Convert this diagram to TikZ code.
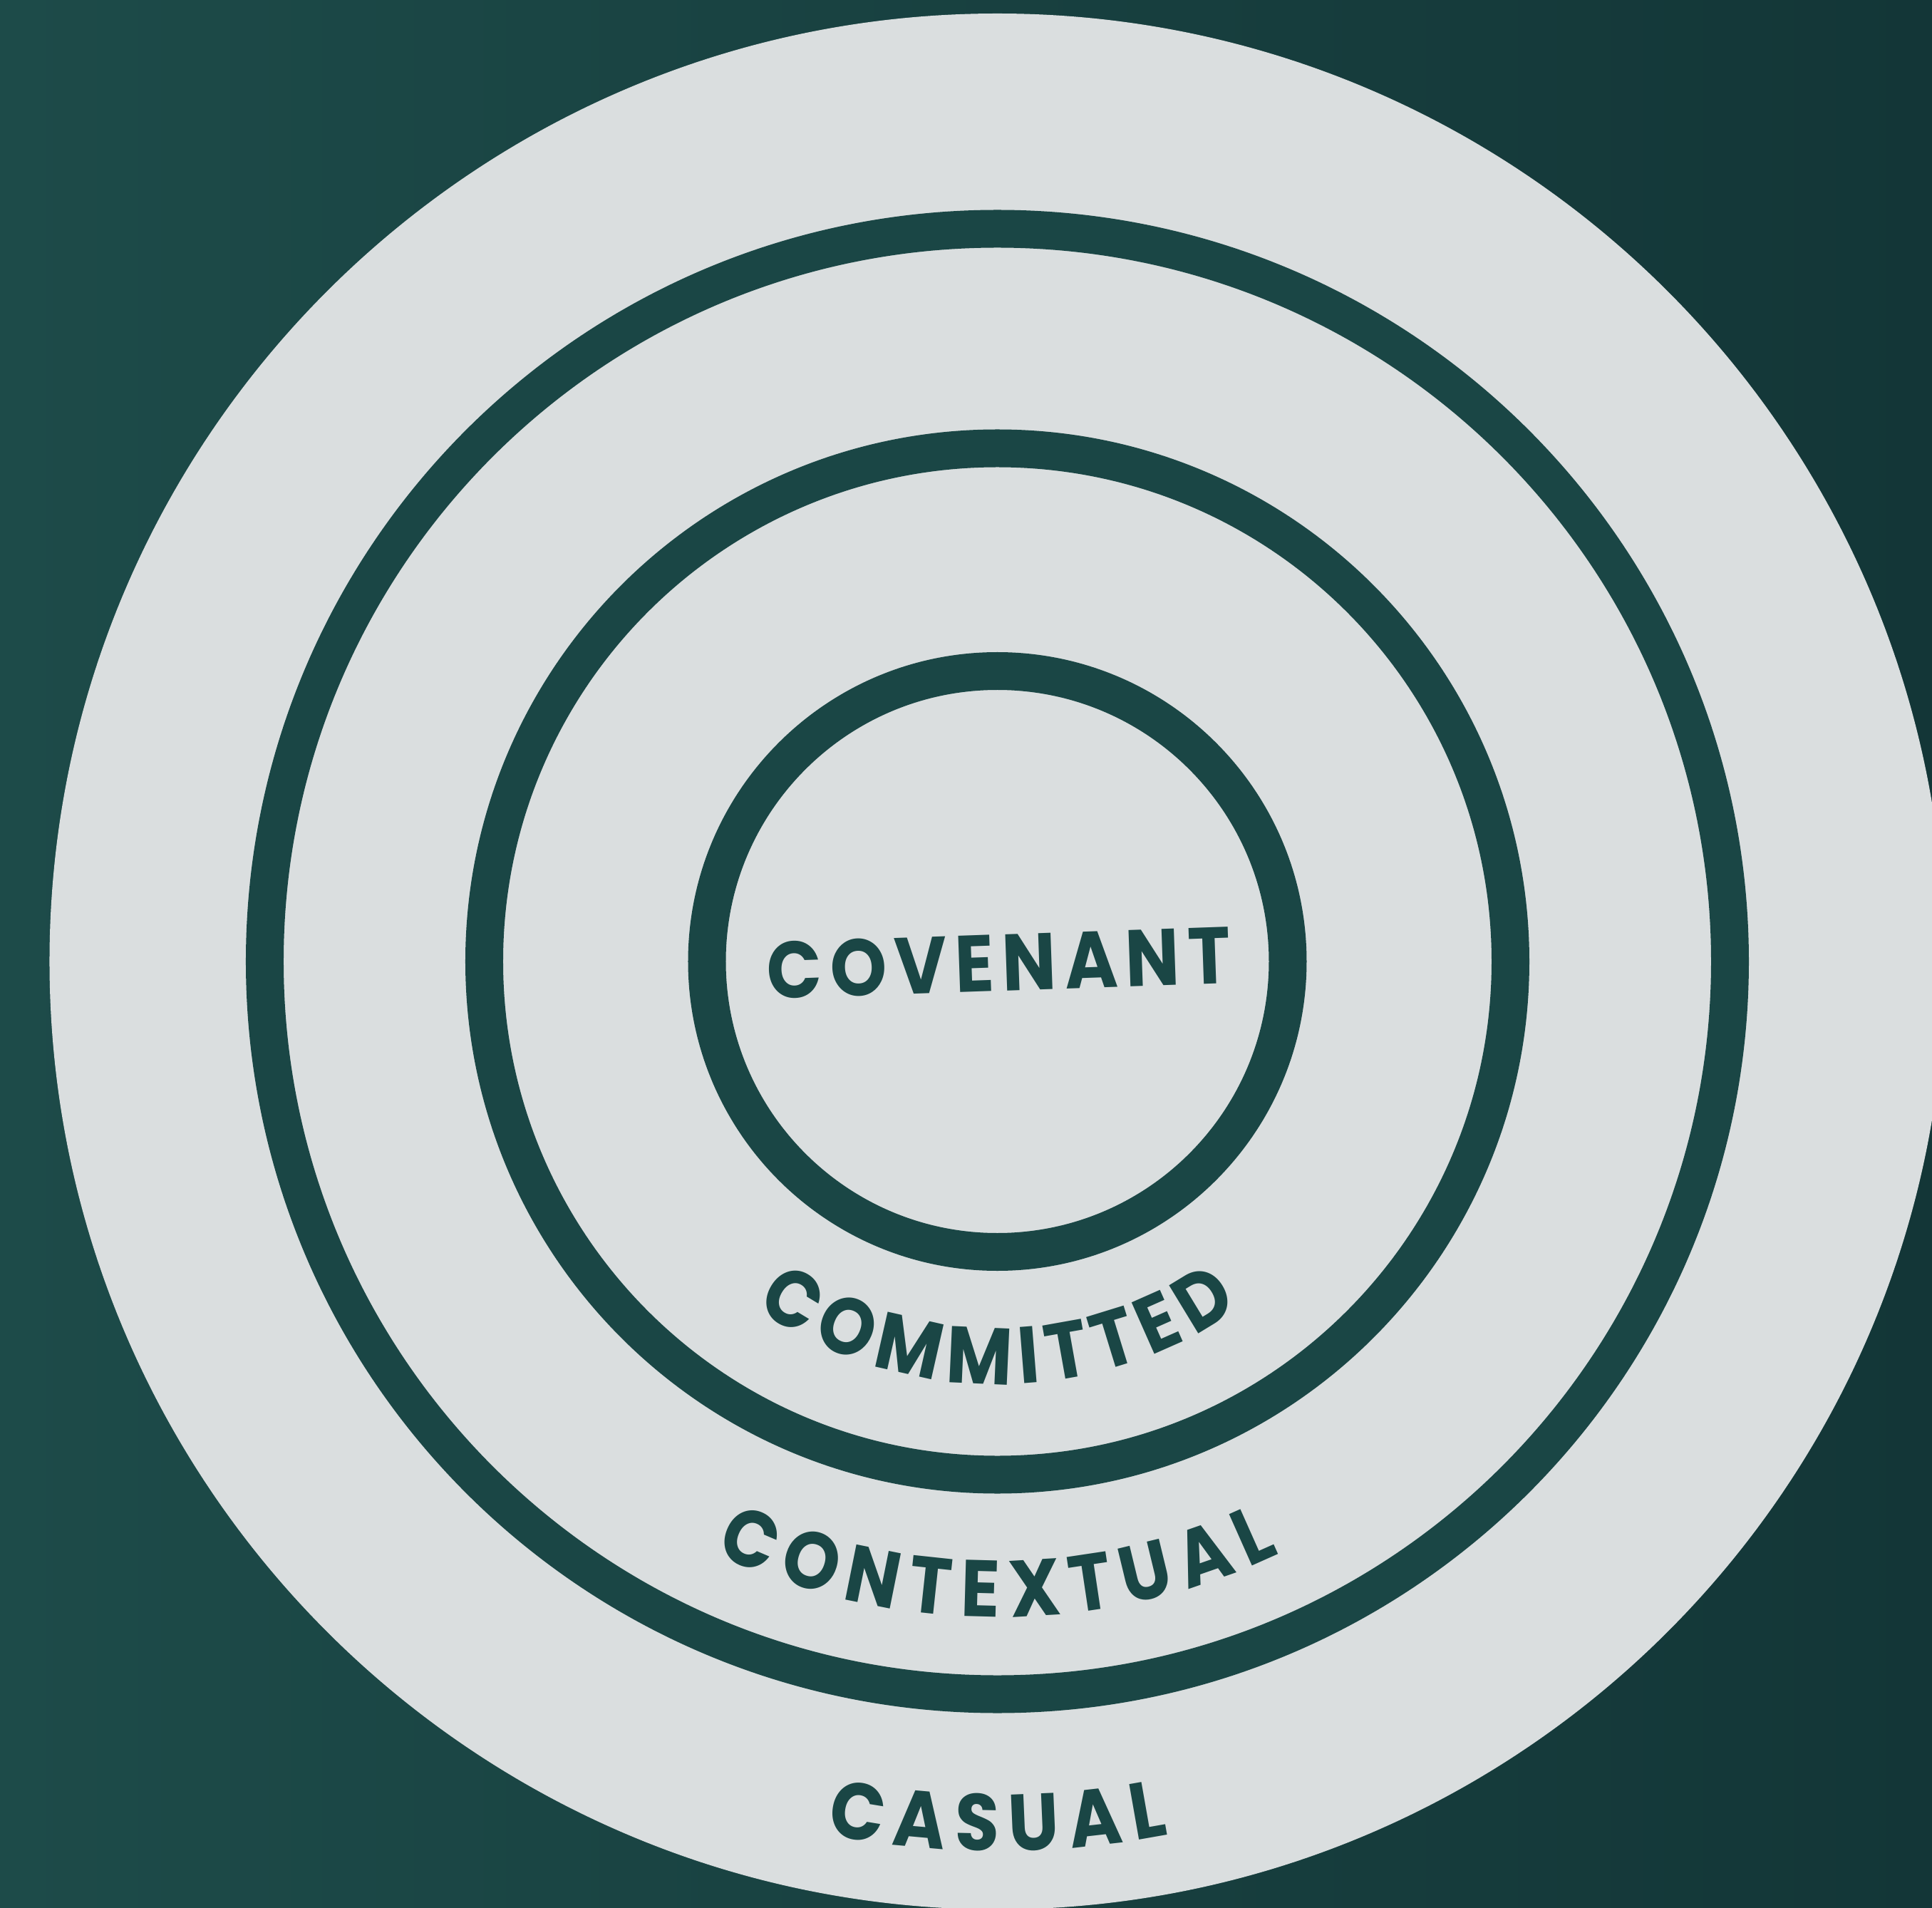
\documentclass[tikz,border=0pt]{standalone}
\usepackage{graphicx}
\usepackage{fontspec}
\newfontfamily\ringfont{Poppins Bold}
\newfontfamily\ringspaced{Poppins Bold}[FakeStretch=0.9, LetterSpace=10]
\definecolor{pine}{HTML}{1A4645}
\definecolor{bgleft}{HTML}{1D4B49}
\definecolor{bgright}{HTML}{133637}
\definecolor{mist}{HTML}{DADEDF}
\newcommand{\ringtype}{\ringfont\fontsize{32pt}{32pt}\selectfont}
\newcommand{\narrow}[1]{\scalebox{0.9}[1]{#1}}
\newlength{\glyphw}
\newcommand{\measureglyph}[1]{\pgfinterruptpicture\settowidth{\glyphw}{\ringtype\narrow{#1}}\global\glyphw=\glyphw\endpgfinterruptpicture}
% letters set one by one round the bottom of a circle: name, baseline radius, gap, letters
\newcommand{\arcword}[4]{%
  \gdef\arctotal{0}%
  \foreach \lettr in {#4}{%
    \measureglyph{\lettr}%
    \pgfmathsetmacro{\arctotal}{\arctotal+\glyphw+#3}\global\let\arctotal\arctotal}%
  \gdef\arcpos{0}%
  \foreach \lettr [count=\k] in {#4}{%
    \measureglyph{\lettr}%
    \pgfmathsetmacro{\arcang}{270+deg((\arcpos+0.5*\glyphw+0.5*#3-0.5*\arctotal)/(#2*28.45274))}%
    \node[letter, rotate=\arcang-270] (#1-\k) at (\arcang:#2) {\narrow{\lettr}};
    \pgfmathsetmacro{\arcpos}{\arcpos+\glyphw+#3}\global\let\arcpos\arcpos}%
}

\begin{document}
\begin{tikzpicture}[ring/.style={draw=pine, line width=5.3mm},
  letter/.style={text=pine, font=\ringtype, inner sep=0pt, anchor=base}]
  \shade[left color=bgleft, right color=bgright] (-13.995,-13.27) rectangle (13.115,13.49);
  \useasboundingbox (-13.995,-13.27) rectangle (13.115,13.49);
  \fill[mist] (0,0) circle (13.3);
  \draw[ring] (0,0) circle (10.28);
  \draw[ring] (0,0) circle (7.2);
  \draw[ring] (0,0) circle (4.075);
  \node[rotate=2, text=pine, font=\ringspaced\fontsize{32pt}{32pt}\selectfont] (covenant) at (0.02,-0.02) {COVENANT};
  \arcword{committed}{5.93}{3.6pt}{C,O,M,M,I,T,T,E,D}
  \arcword{contextual}{9.2}{4.6pt}{C,O,N,T,E,X,T,U,A,L}
  \arcword{casual}{12.48}{4.3pt}{C,A,S,U,A,L}
\end{tikzpicture}
\end{document}
